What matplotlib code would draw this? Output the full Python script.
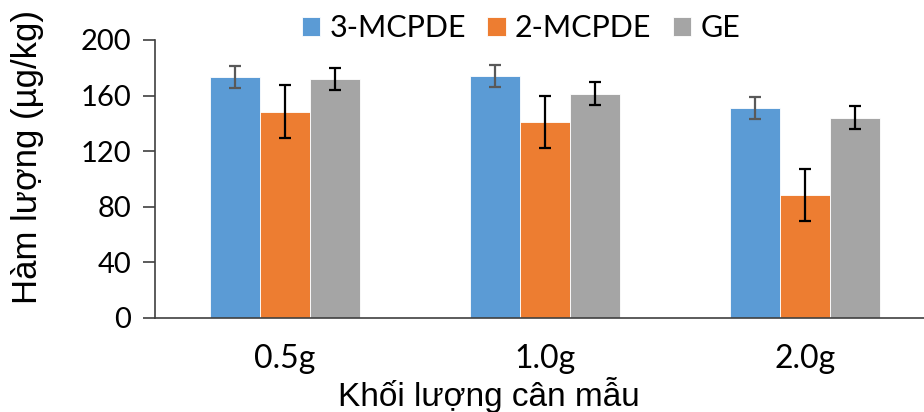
import numpy as np
import matplotlib as mpl
from matplotlib import pyplot as plt

categories = ["0.5g", "1.0g", "2.0g"]
series = ["3-MCPDE", "2-MCPDE", "GE"]
mcpde3 = [173.6, 174.1, 151.0]
mcpde2 = [148.4, 141.0, 88.5]
ge = [171.7, 161.4, 144.0]
mcpde3_err = [7.8, 8.2, 8.0]
mcpde2_err = [19.0, 19.0, 19.0]
ge_err = [8.0, 8.4, 8.2]
y_ticks = [0, 40, 80, 120, 160, 200]

colors = ["#5b9bd5", "#ed7d31", "#a5a5a5"]
err_colors = ["#595959", "black", "black"]
tick_font = "Lato"
label_font = "Liberation Sans"


def main() -> None:
    fig = plt.figure(figsize=(9.24, 4.12), dpi=100)
    W, H = 924, 412
    left, right, bottom, top = 155, 924, 94, 372
    ax = fig.add_axes([left / W, bottom / H, (right - left) / W, (top - bottom) / H])

    x = np.arange(len(categories))
    width = 50 / 260
    values = [mcpde3, mcpde2, ge]
    errors = [mcpde3_err, mcpde2_err, ge_err]
    for i, (name, vals, errs) in enumerate(zip(series, values, errors)):
        ax.bar(x + (i - 1) * width, vals, width, color=colors[i], label=name,
               edgecolor="white", linewidth=0.6, zorder=2)
        ax.errorbar(x + (i - 1) * width, vals, yerr=errs, fmt="none",
                    ecolor=err_colors[i], elinewidth=1.6, capsize=4, capthick=1.6, zorder=3)

    ax.set_xlim(-0.5, -0.5 + (right - left) / 260)
    ax.set_ylim(0, 200)
    ax.set_yticks(y_ticks)
    ax.set_yticklabels([str(t) for t in y_ticks], fontfamily=tick_font, fontsize=21)
    ax.set_xticks(x)
    ax.set_xticklabels(categories, fontfamily=tick_font, fontsize=23)
    ax.tick_params(axis="x", length=0, pad=19)
    ax.tick_params(axis="y", length=9, width=1.2, color="#404040", pad=8)

    for side in ["top", "right"]:
        ax.spines[side].set_visible(False)
    ax.spines["left"].set_color("#404040")
    ax.spines["left"].set_linewidth(1.2)
    ax.spines["bottom"].set_color("#404040")
    ax.spines["bottom"].set_linewidth(1.2)

    ax.set_ylabel("Hàm lượng (µg/kg)", fontfamily=label_font, fontsize=25)
    ax.yaxis.set_label_coords(-(left - 28) / (right - left), (318 - 157) / (top - bottom))
    ax.yaxis.label.set_verticalalignment("center")
    ax.set_xlabel("Khối lượng cân mẫu", fontfamily=label_font, fontsize=24)
    ax.xaxis.label.set_verticalalignment("baseline")
    ax.xaxis.set_label_coords((489 - left) / (right - left), -(406 - 318) / (top - bottom))

    fig.legend(loc="center", bbox_to_anchor=(521 / W, 1 - 28 / H), ncol=3, frameon=False,
               prop={"family": tick_font, "size": 22}, handlelength=0.6, handleheight=0.6,
               handletextpad=0.3, columnspacing=0.7, borderaxespad=0)

    fig.savefig("out.png", dpi=100)


if __name__ == '__main__':
    main()
